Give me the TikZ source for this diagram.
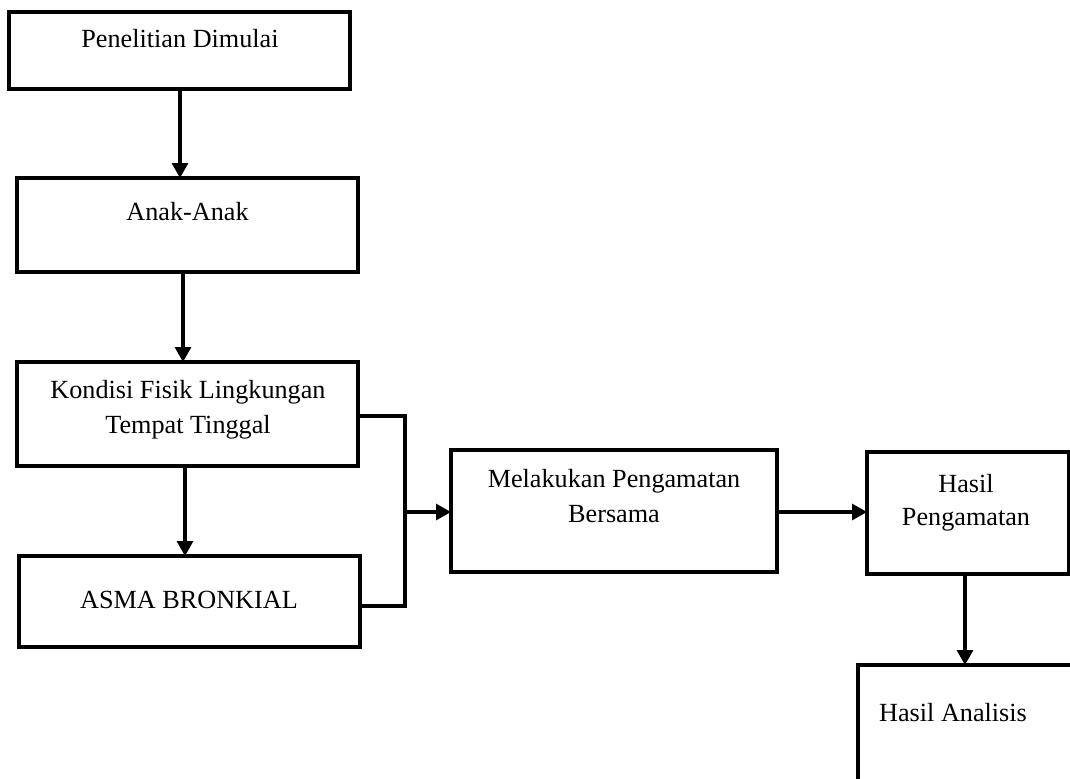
\documentclass[tikz,border=0pt]{standalone}
\usepackage{fontspec}
\setmainfont{Liberation Serif}
\usetikzlibrary{arrows.meta}
\begin{document}
\begin{tikzpicture}[x=0.5pt,y=-0.5pt,
  box/.style={draw=black, line width=1.6pt, inner sep=0pt, outer sep=0pt},
  txt/.style={inner sep=0pt, anchor=base, font=\fontsize{13.1pt}{17.5pt}\selectfont},
  conn/.style={draw=black, line width=1.6pt},
  arr/.style={conn, -{Triangle[length=7.5pt,width=8pt]}}]
\useasboundingbox (0,0) rectangle (1070,778);
\clip (0,0) rectangle (1070,778);
% boxes
\node[box, minimum width=170.5pt, minimum height=38.5pt] (b1) at (179.5,50.5) {};
\node[box, minimum width=170.5pt, minimum height=47pt] (b2) at (187.5,225) {};
\node[box, minimum width=170.5pt, minimum height=52pt] (b3) at (187.5,414) {};
\node[box, minimum width=170.5pt, minimum height=45.5pt] (b4) at (189.5,601.5) {};
\node[box, minimum width=163pt, minimum height=61pt] (b5) at (614,511) {};
\node[box, minimum width=101pt, minimum height=61pt] (b6) at (968,513) {};
\node[box, minimum width=120pt, minimum height=75pt] (b7) at (978,740) {};
% texts
\node[txt] (t1) at (180,47) {Penelitian Dimulai};
\node[txt] (t2) at (187.5,220) {Anak-Anak};
\node[txt] (t3a) at (188,398) {Kondisi Fisik Lingkungan};
\node[txt] (t3b) at (188,433) {Tempat Tinggal};
\node[txt] (t4) at (189,608) {ASMA BRONKIAL};
\node[txt] (t5a) at (614,487) {Melakukan Pengamatan};
\node[txt] (t5b) at (614,522) {Bersama};
\node[txt] (t6a) at (966,492) {Hasil};
\node[txt] (t6b) at (966,525) {Pengamatan};
\node[txt] (t7) at (953,721) {Hasil Analisis};
% connectors
\coordinate (jt) at (405,416);
\coordinate (jm) at (405,512);
\coordinate (jb) at (405,606);
\draw[arr] (b1.south -| 180,0) -- (b2.north -| 180,0);
\draw[arr] (b2.south -| 183,0) -- (b3.north -| 183,0);
\draw[arr] (b3.south -| 185,0) -- (b4.north -| 185,0);
\draw[conn] (b3.east |- jt) -- (jt) -- (jb) -- (b4.east |- jb);
\draw[arr] (jm) -- (b5.west |- jm);
\draw[arr] (b5.east |- 0,512) -- (b6.west |- 0,512);
\draw[arr] (b6.south -| 965,0) -- (b7.north -| 965,0);
\end{tikzpicture}
\end{document}
